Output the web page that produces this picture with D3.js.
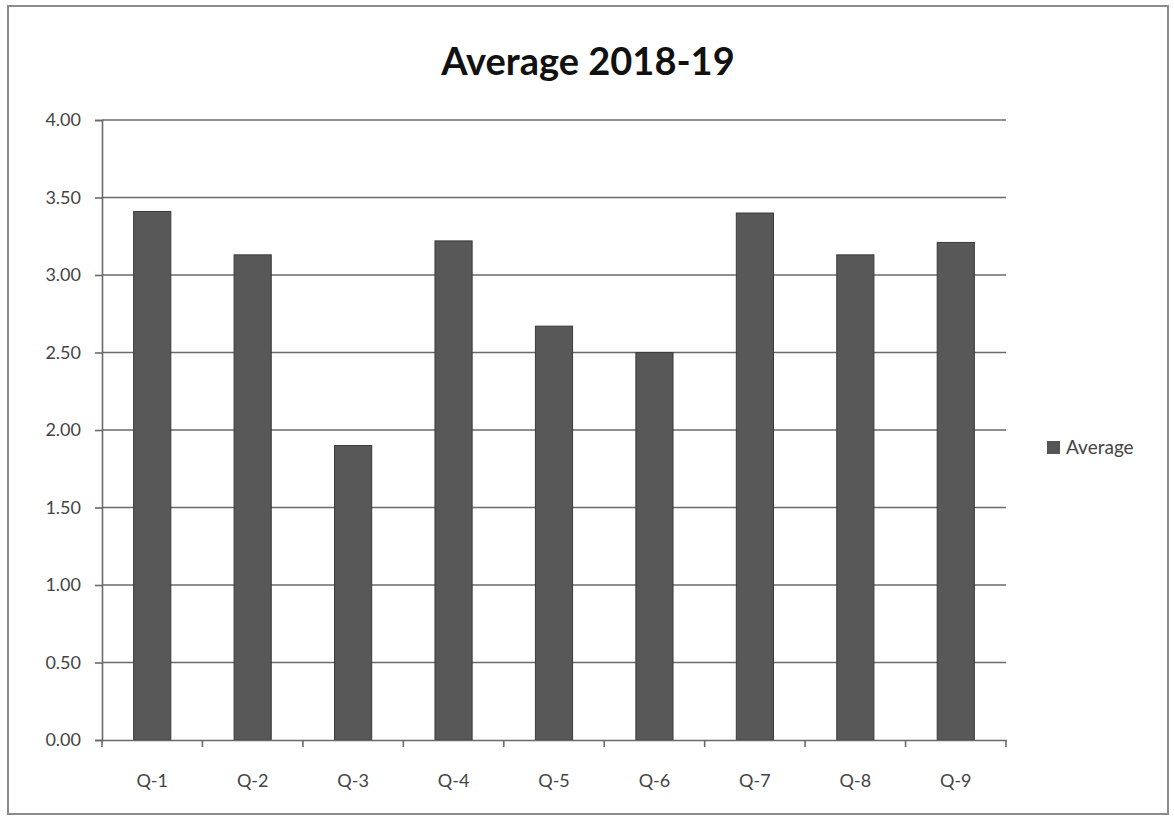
<!DOCTYPE html>
<html><head><meta charset="utf-8">
<script src="https://cdn.jsdelivr.net/npm/d3@7"></script>
<style>body{margin:0;background:#fff}</style>
</head><body>
<svg id="c" width="1174" height="820"></svg>
<script>
const categories = ["Q-1","Q-2","Q-3","Q-4","Q-5","Q-6","Q-7","Q-8","Q-9"];
const averages = [3.41,3.13,1.90,3.22,2.67,2.50,3.40,3.13,3.21];
const yTicks = [0,0.5,1,1.5,2,2.5,3,3.5,4];
const title = "Average 2018-19";
const seriesName = "Average";

const svg = d3.select("#c");
const font = "Lato, 'Open Sans', sans-serif";
svg.append("rect").attr("x",8).attr("y",6).attr("width",1160).attr("height",808)
  .attr("fill","#fff").attr("stroke","#8a8a8a").attr("stroke-width",2);

const x = d3.scaleBand().domain(categories).range([102,1006]).paddingInner(0.63).paddingOuter(0.315);
const y = d3.scaleLinear().domain([0,4]).range([740,120]);

svg.append("g").selectAll("line").data(yTicks.filter(d=>d>0)).join("line")
  .attr("x1",102).attr("x2",1006).attr("y1",d=>y(d)).attr("y2",d=>y(d))
  .attr("stroke","#6a6a6a").attr("stroke-width",1.6);

const yAxis = svg.append("g").attr("transform","translate(102,0)")
  .call(d3.axisLeft(y).tickValues(yTicks).tickFormat(d3.format(".2f")).tickSize(7).tickPadding(14));
yAxis.select(".domain").attr("stroke","#6a6a6a").attr("stroke-width",1.6);
yAxis.selectAll(".tick line").attr("stroke","#6a6a6a").attr("stroke-width",1.6);
yAxis.selectAll("text").attr("font-family",font).attr("font-size",18).attr("fill","#444");

svg.append("g").selectAll("rect").data(averages).join("rect")
  .attr("x",(d,i)=>x(categories[i])).attr("width",x.bandwidth())
  .attr("y",d=>y(d)).attr("height",d=>y(0)-y(d))
  .attr("fill","#585858").attr("stroke","#3a3a3a").attr("stroke-width",1);

const xAxis = svg.append("g").attr("transform","translate(0,740)")
  .call(d3.axisBottom(x).tickSize(0).tickPadding(34));
xAxis.select(".domain").attr("stroke","#6a6a6a").attr("stroke-width",1.6);
xAxis.selectAll("text").attr("font-family",font).attr("font-size",18).attr("fill","#444");
const step = x.step();
svg.append("g").selectAll("line").data(d3.range(categories.length+1)).join("line")
  .attr("x1",d=>102+d*step).attr("x2",d=>102+d*step).attr("y1",740).attr("y2",747)
  .attr("stroke","#6a6a6a").attr("stroke-width",1.6);

svg.append("text").attr("x",588).attr("y",75).attr("text-anchor","middle")
  .attr("font-family",font).attr("font-weight","bold").attr("font-size",38).attr("fill","#111")
  .text(title);

svg.append("rect").attr("x",1047).attr("y",441).attr("width",13).attr("height",13).attr("fill","#555");
svg.append("text").attr("x",1066).attr("y",454).attr("font-family",font).attr("font-size",19)
  .attr("fill","#444").text(seriesName);
</script>
</body></html>
